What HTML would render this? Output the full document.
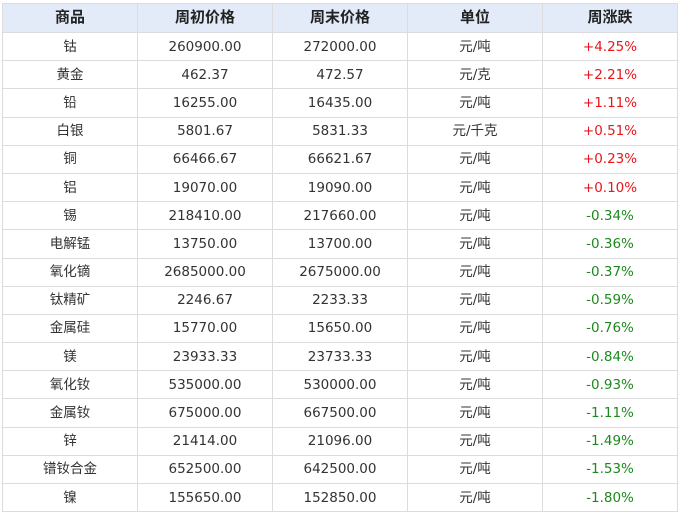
<!DOCTYPE html>
<html><head><meta charset="utf-8"><style>
body{margin:0;background:#fff;width:682px;height:515px;overflow:hidden}
table{position:absolute;left:2px;top:3px;border-collapse:collapse;font-family:"DejaVu Sans","Noto Sans CJK SC",sans-serif;font-size:13.5px;color:#333}
td,th{border:1px solid #dcdcdc;text-align:center;padding:0;width:134px;height:27.2px;line-height:16px}
td span{display:inline-block;height:16px;line-height:16px;vertical-align:top}
th{background:#e3ebf8;font-weight:bold;font-family:"Liberation Sans","Noto Sans CJK SC",sans-serif;font-size:15px;height:28px;color:#222}
.r{color:#e8171b}.g{color:#1d8a1d}
</style></head><body>
<table>
<tr><th>商品</th><th>周初价格</th><th>周末价格</th><th>单位</th><th>周涨跌</th></tr>
<tr><td>钴</td><td>260900.00</td><td>272000.00</td><td>元/吨</td><td class="r">+4.25%</td></tr>
<tr><td>黄金</td><td>462.37</td><td>472.57</td><td>元/克</td><td class="r">+2.21%</td></tr>
<tr><td>铅</td><td>16255.00</td><td>16435.00</td><td>元/吨</td><td class="r">+1.11%</td></tr>
<tr><td>白银</td><td>5801.67</td><td>5831.33</td><td>元/千克</td><td class="r">+0.51%</td></tr>
<tr><td>铜</td><td>66466.67</td><td>66621.67</td><td>元/吨</td><td class="r">+0.23%</td></tr>
<tr><td>铝</td><td>19070.00</td><td>19090.00</td><td>元/吨</td><td class="r">+0.10%</td></tr>
<tr><td>锡</td><td>218410.00</td><td>217660.00</td><td>元/吨</td><td class="g">-0.34%</td></tr>
<tr><td>电解锰</td><td>13750.00</td><td>13700.00</td><td>元/吨</td><td class="g">-0.36%</td></tr>
<tr><td>氧化镝</td><td>2685000.00</td><td>2675000.00</td><td>元/吨</td><td class="g">-0.37%</td></tr>
<tr><td>钛精矿</td><td>2246.67</td><td>2233.33</td><td>元/吨</td><td class="g">-0.59%</td></tr>
<tr><td>金属硅</td><td>15770.00</td><td>15650.00</td><td>元/吨</td><td class="g">-0.76%</td></tr>
<tr><td>镁</td><td>23933.33</td><td>23733.33</td><td>元/吨</td><td class="g">-0.84%</td></tr>
<tr><td>氧化钕</td><td>535000.00</td><td>530000.00</td><td>元/吨</td><td class="g">-0.93%</td></tr>
<tr><td>金属钕</td><td>675000.00</td><td>667500.00</td><td>元/吨</td><td class="g">-1.11%</td></tr>
<tr><td>锌</td><td>21414.00</td><td>21096.00</td><td>元/吨</td><td class="g">-1.49%</td></tr>
<tr><td>镨钕合金</td><td>652500.00</td><td>642500.00</td><td>元/吨</td><td class="g">-1.53%</td></tr>
<tr><td>镍</td><td>155650.00</td><td>152850.00</td><td>元/吨</td><td class="g">-1.80%</td></tr>
</table>
</body></html>
